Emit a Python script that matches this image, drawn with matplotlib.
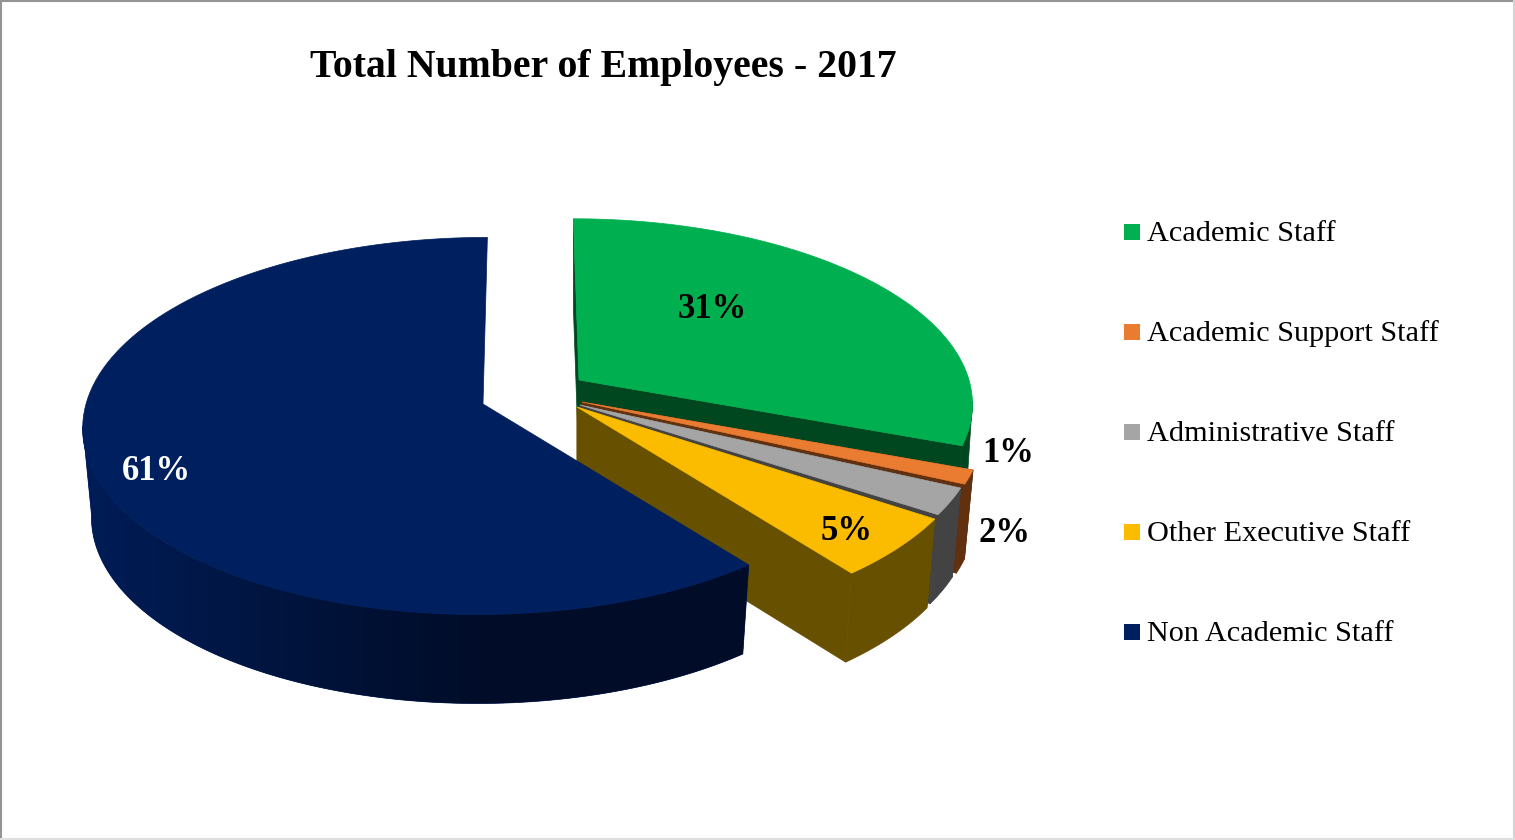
import numpy as np
import matplotlib
matplotlib.use("Agg")
import matplotlib.pyplot as plt
from matplotlib.colors import LinearSegmentedColormap
from matplotlib.patches import Polygon, Rectangle

plt.rcParams['font.family'] = ['Liberation Serif', 'DejaVu Serif']

title = "Total Number of Employees - 2017"
categories = ["Academic Staff", "Academic Support Staff", "Administrative Staff",
              "Other Executive Staff", "Non Academic Staff"]
# percent shares (labels round these)
shares = [30.7, 1.2, 2.3, 5.2, 60.6]

top_colors = ["#00b050", "#e97c30", "#a5a5a5", "#fbbc00", "#001f5e"]
wall_colors = ["#00471f", "#60300f", "#434343", "#675000", "#001d58"]
label_colors = ["black", "black", "black", "black", "white"]

# where each exploded slice sits, in pixels
apex_x = [579, 582, 580, 577, 483]
apex_y = [380, 402, 405, 407, 404]
radius_x = [390, 398, 396, 396, 397]
radius_y = [180, 186, 188, 192, 186]
bottom_scale = [0.985, 0.978, 0.978, 0.978, 0.978]
label_x = [712, 1008, 1004, 847, 156]
label_y = [309, 453, 533, 532, 472]
legend_y = [232, 332, 432, 532, 632]

persp = 0.1164
vanish_x = 525
depth = 89


def project(i, theta, r=1.0, drop=0):
    # slice plane to screen, further away is smaller
    u = np.sin(theta) * r
    v = np.cos(theta) * r
    w = 1 + persp * v
    scale = bottom_scale[i] if drop else 1.0
    x = vanish_x + (apex_x[i] - vanish_x + radius_x[i] * u * scale) / w
    y = apex_y[i] - radius_y[i] * v / w + drop
    return x, y


fig = plt.figure(figsize=(15.15, 8.4), dpi=100)
ax = fig.add_axes([0, 0, 1, 1])
ax.axis("off")

# chart frame
ax.plot([1, 1], [840, 1], color="#949494", lw=1.5)
ax.plot([1, 1514], [1, 1], color="#949494", lw=1.5)
ax.plot([1514, 1514], [1, 840], color="#d4d4d4", lw=1.5)
ax.plot([1, 1514], [839, 839], color="#e0e0e0", lw=1.5)

ax.text(603, 67, title, fontsize=28.6, fontweight="bold", ha="center", va="center")

edges = np.radians(np.cumsum([0] + shares) * 3.6)
navy_fade = LinearSegmentedColormap.from_list("navy_fade", ["#001d58", "#00143d", "#000c28"])
# widest points of the rim, the wall runs between these
rim_right = np.arccos(-persp)
rim_left = 2 * np.pi - rim_right

for i in range(len(shares)):
    start = edges[i]
    end = edges[i + 1]
    thetas = np.linspace(start, end, 120)

    # cut faces, the big slice has none facing us
    if categories[i] != "Non Academic Staff":
        for t in [start, end]:
            x0, y0 = project(i, t, 0)
            x1, y1 = project(i, t)
            x2, y2 = project(i, t, drop=depth)
            x3, y3 = project(i, t, 0, drop=depth)
            ax.add_patch(Polygon([(x0, y0), (x1, y1), (x2, y2), (x3, y3)],
                                 fc=wall_colors[i], ec=wall_colors[i], lw=0.5, zorder=i + 1))

    # outer wall, front part of the rim only
    front = np.linspace(max(start, rim_right), min(end, rim_left), 120)
    xt, yt = project(i, front)
    xb, yb = project(i, front, drop=depth)
    wall = np.column_stack([np.r_[xt, xb[::-1]], np.r_[yt, yb[::-1]]])
    wall_patch = Polygon(wall, fc=wall_colors[i], ec=wall_colors[i], lw=0.5, zorder=i + 1)
    ax.add_patch(wall_patch)
    if categories[i] == "Non Academic Staff":
        # the big slice falls off into the dark towards the front
        img = ax.imshow(np.linspace(0, 1, 256)[None, :], cmap=navy_fade, aspect="auto",
                        extent=(80, 490, 840, 0), zorder=i + 1.2)
        img.set_clip_path(wall_patch)
        ramp_end = ax.imshow(np.ones((1, 2)), cmap=navy_fade, vmin=0, vmax=1, aspect="auto",
                             extent=(490, 760, 840, 0), zorder=i + 1.2)
        ramp_end.set_clip_path(wall_patch)

    # top face
    xs, ys = project(i, thetas)
    ax0, ay0 = project(i, start, 0)
    pts = [(ax0, ay0)] + list(zip(xs, ys))
    ax.add_patch(Polygon(pts, fc=top_colors[i], ec=top_colors[i], lw=0.5, zorder=i + 1.5))

ax.set_xlim(0, 1515)
ax.set_ylim(840, 0)

for i, name in enumerate(categories):
    ax.text(label_x[i], label_y[i], f"{shares[i]:.0f}%", fontsize=25, fontweight="bold",
            color=label_colors[i], ha="center", va="center", zorder=10)
    ax.add_patch(Rectangle((1124, legend_y[i] - 8), 16, 16, fc=top_colors[i], ec="none"))
    ax.text(1147, legend_y[i] + 2, name, fontsize=21.8, ha="left", va="center")

fig.savefig("out.png", dpi=100)
